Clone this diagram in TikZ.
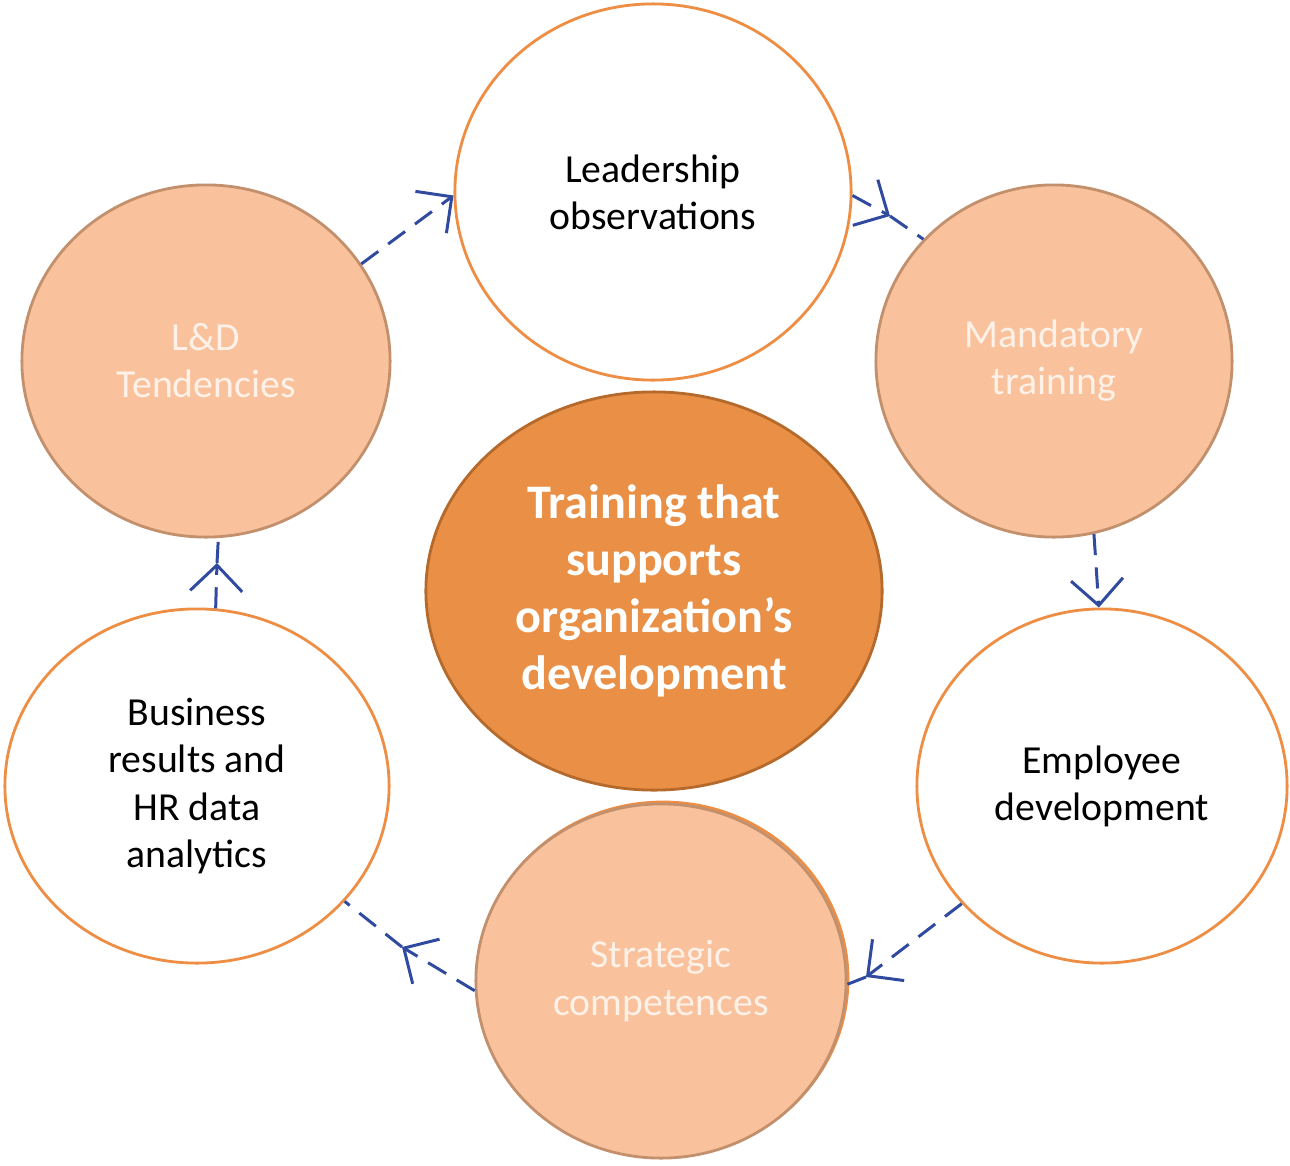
\documentclass[tikz,border=0pt]{standalone}
\usepackage{fontspec}
\setmainfont{Carlito}
\usetikzlibrary{arrows.meta,shapes.geometric}

\definecolor{ringorange}{HTML}{EE8E45}
\definecolor{peachfill}{HTML}{F9C29D}
\definecolor{peachedge}{HTML}{C2906C}
\definecolor{corefill}{HTML}{E98F46}
\definecolor{coreedge}{HTML}{B56A2C}
\definecolor{linkblue}{HTML}{2F4A9F}
\definecolor{softtext}{HTML}{FDF1E8}

\begin{document}
\begin{tikzpicture}[
    x=0.01cm, y=-0.01cm,
    every node/.style={font=\fontsize{11.3}{13.4}\selectfont, align=center, ellipse, inner sep=0pt},
    plain/.style={draw=ringorange, line width=0.8pt, fill=white, text=black},
    peach/.style={draw=peachedge, line width=0.8pt, fill=peachfill, text=softtext},
    core/.style={draw=coreedge, line width=0.8pt, fill=corefill, text=white,
        font=\fontsize{13.7}{16.2}\selectfont\bfseries},
    link/.style={draw=linkblue, line width=0.85pt, dash pattern=on 6pt off 3.5pt},
    tip/.style={link, -{Straight Barb[length=2.6mm, width=5.2mm, line width=0.85pt]}}
]
\useasboundingbox (0,0) rectangle (1290,1166);

% outer ring
\node[plain, minimum width=3.96cm, minimum height=3.76cm] (lead) at (653,192) {Leadership\\observations};
\node[peach, minimum width=3.56cm, minimum height=3.52cm] (mand) at (1054,361) {Mandatory\\training};
\node[plain, minimum width=3.70cm, minimum height=3.54cm] (empl) at (1102,786) {Employee\\development};
\draw[ringorange, line width=0.8pt] (663,979) ellipse [x radius=185, y radius=177];
\node[peach, minimum width=3.70cm, minimum height=3.54cm] (strat) at (661,981) {Strategic\\competences};
\node[plain, minimum width=3.84cm, minimum height=3.54cm] (bus) at (197,786) {Business\\results and\\HR data\\analytics};
\node[peach, minimum width=3.68cm, minimum height=3.52cm] (ld) at (206,361) {L\&D\\Tendencies};

% middle
\node[core, minimum width=4.56cm, minimum height=3.98cm] (train) at (654,591) {Training that\\supports\\organization’s\\development};

% arrow heads sit part way along some links
\coordinate (tipA) at (890,216);
\coordinate (tipB) at (866,977);
\coordinate (tipC) at (402,947);
\coordinate (tipD) at (217,563);

% links
\draw[tip] (ld.32.7) -- (lead.181.4);
\draw[tip] (lead.-1) -- (tipA);
\draw[link] (tipA) -- (mand.137.5);
\draw[tip] (mand.-77.7) -- (empl.91.9);
\draw[tip] (empl.220.6) -- (tipB);
\draw[link] (tipB) -- (strat.-1.2);
\draw[tip] (strat.183.7) -- (tipC);
\draw[link] (tipC) -- (bus.-38.3);
\draw[tip] (bus.84.2) -- (tipD);
\draw[link] (tipD) -- (ld.-86.8);
\end{tikzpicture}
\end{document}
